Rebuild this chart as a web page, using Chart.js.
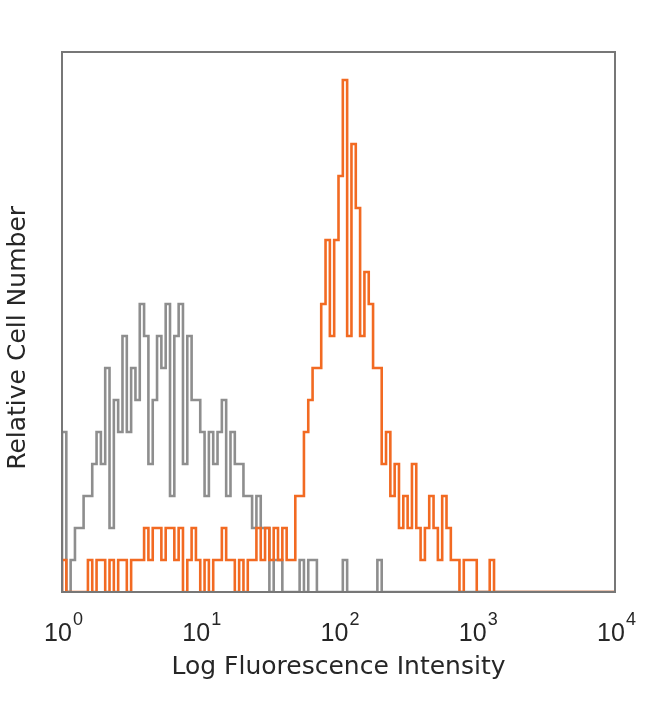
<!DOCTYPE html>
<html>
<head>
    <title>Log Fluorescence Histogram</title>
    <script src="https://cdn.jsdelivr.net/npm/chart.js@4"></script>
    <style>
        body { margin: 0; background: #fff; }
        #histChart { display: block; }
    </style>
</head>
<body>
    <canvas id="histChart" width="650" height="704"></canvas>
    <script>
        // counts per channel, 32 channels per decade, from 10^0 to 10^4
        const channelsPerDecade = 32;
        const stainedCounts = [
            1,0,0,0,0,0,1,0,1,1,0,1,0,1,1,0,
            1,1,1,2,1,2,2,1,2,2,1,2,0,1,2,1,
            0,1,0,1,1,2,1,1,0,1,0,1,1,2,1,2,
            1,2,1,2,1,1,3,3,5,6,7,7,9,11,8,11,
            13,16,8,14,12,8,10,9,7,7,4,5,3,4,2,3,
            2,4,2,1,2,3,2,1,3,2,1,1,0,1,1,1,
            0,0,0,1,0,0,0,0,0,0,0,0,0,0,0,0,
            0,0,0,0,0,0,0,0,0,0,0,0,0,0,0,0
        ];
        const isotypeCounts = [
            5,0,1,2,2,3,3,4,5,4,7,2,6,5,8,5,
            7,6,9,8,4,6,8,7,9,3,8,9,4,8,6,6,
            5,3,5,4,5,6,3,5,4,4,3,3,2,3,2,2,
            0,1,1,0,0,0,0,1,0,1,1,0,0,0,0,0,
            0,1,0,0,0,0,0,0,0,1,0,0,0,0,0,0,
            0,0,0,0,0,0,0,0,0,0,0,0,0,0,0,0,
            0,0,0,0,0,0,0,0,0,0,0,0,0,0,0,0,
            0,0,0,0,0,0,0,0,0,0,0,0,0,0,0,0
        ];
        const tickValues = [1, 10, 100, 1000, 10000];
        const tickExponents = ['0', '1', '2', '3', '4'];
        const yMax = 16.875;

        // turn channel counts into step points on the log axis
        function histPoints(counts) {
            const pts = [{ x: 1, y: 0 }];
            counts.forEach((c, i) => {
                pts.push({ x: Math.pow(10, i / channelsPerDecade), y: c });
            });
            pts.push({ x: 10000, y: counts[counts.length - 1] });
            return pts;
        }

        const framePlugin = {
            id: 'frame',
            afterDatasetsDraw(chart) {
                const { ctx, chartArea: a } = chart;
                ctx.save();
                ctx.strokeStyle = '#777';
                ctx.lineWidth = 2;
                ctx.strokeRect(a.left, a.top, a.right - a.left, a.bottom - a.top);
                ctx.restore();
            },
            afterDraw(chart) {
                const { ctx } = chart;
                const xScale = chart.scales.x;
                ctx.save();
                ctx.fillStyle = '#262626';
                tickValues.forEach((v, i) => {
                    const px = xScale.getPixelForValue(v) - 4;
                    ctx.font = "25px 'Liberation Sans Narrow', 'Liberation Sans', sans-serif";
                    ctx.textAlign = 'center';
                    ctx.textBaseline = 'alphabetic';
                    ctx.fillText('10', px, 641);
                    const w = ctx.measureText('10').width;
                    ctx.font = "18px 'Liberation Sans Narrow', 'Liberation Sans', sans-serif";
                    ctx.textAlign = 'left';
                    ctx.fillText(tickExponents[i], px + w / 2 + 1, 625);
                });
                ctx.restore();
            }
        };

        const ctx = document.getElementById('histChart').getContext('2d');
        const histChart = new Chart(ctx, {
            type: 'line',
            data: {
                datasets: [{
                    label: 'Stained',
                    data: histPoints(stainedCounts),
                    borderColor: '#f26a22',
                    borderWidth: 2.6,
                    stepped: true,
                    pointRadius: 0,
                    fill: false
                },
                {
                    label: 'Isotype control',
                    data: histPoints(isotypeCounts),
                    borderColor: '#8e8e8e',
                    borderWidth: 2.6,
                    stepped: true,
                    pointRadius: 0,
                    fill: false
                }]
            },
            options: {
                responsive: false,
                animation: false,
                layout: { padding: { top: 52, right: 35, left: 0, bottom: 0 } },
                plugins: { legend: { display: false }, tooltip: { enabled: false } },
                scales: {
                    x: {
                        type: 'logarithmic',
                        min: 1,
                        max: 10000,
                        grid: { display: false },
                        border: { display: false },
                        ticks: { display: false },
                        title: {
                            display: true,
                            text: 'Log Fluorescence Intensity',
                            color: '#262626',
                            font: { family: "'DejaVu Sans', sans-serif", size: 25 },
                            padding: { top: 0, bottom: 22 }
                        },
                        afterFit(scale) { scale.height = 112; }
                    },
                    y: {
                        min: 0,
                        max: yMax,
                        grid: { display: false },
                        border: { display: false },
                        ticks: { display: false },
                        title: {
                            display: true,
                            text: 'Relative Cell Number    ',
                            color: '#262626',
                            font: { family: "'DejaVu Sans', sans-serif", size: 25 },
                            padding: { top: 3, bottom: 0 }
                        },
                        afterFit(scale) { scale.width = 62; }
                    }
                }
            },
            plugins: [framePlugin]
        });
    </script>
</body>
</html>
